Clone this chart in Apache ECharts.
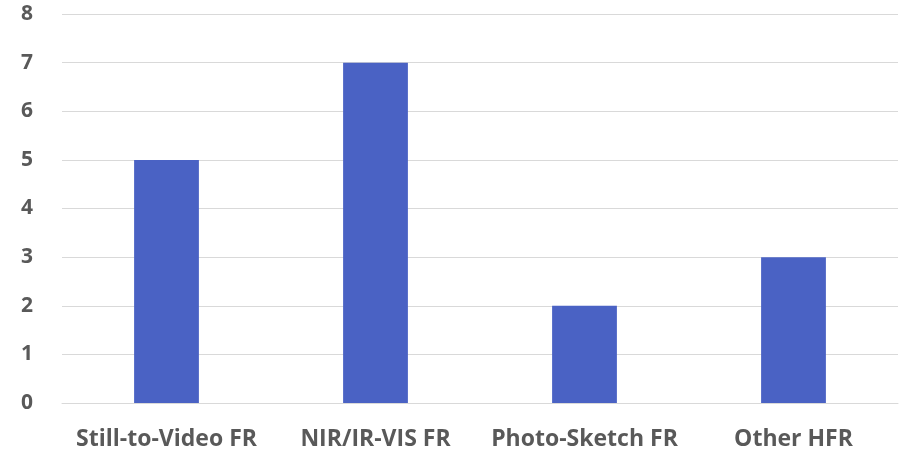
<!DOCTYPE html>
<html>
<head>
<meta charset="utf-8">
<script src="https://cdn.jsdelivr.net/npm/echarts@6/dist/echarts.min.js"></script>
<style>
  html, body { margin: 0; padding: 0; background: #fff; }
  #main { width: 904px; height: 454px; }
</style>
</head>
<body>
<div id="main"></div>
<script>
var categories = ['Still-to-Video FR', 'NIR/IR-VIS FR', 'Photo-Sketch FR', 'Other HFR'];
var counts = [5, 7, 2, 3];

var chart = echarts.init(document.getElementById('main'));
chart.setOption({
    animation: false,
    grid: { left: 62, right: 6, top: 14, bottom: 51, containLabel: false },
    xAxis: {
        type: 'category',
        data: categories,
        axisLine: { show: true, lineStyle: { color: '#d9d9d9', width: 1 } },
        axisTick: { show: false },
        axisLabel: {
            interval: 0,
            hideOverlap: false,
            color: '#595959',
            fontFamily: 'Open Sans',
            fontWeight: 700,
            fontSize: 23,
            margin: 25
        }
    },
    yAxis: {
        type: 'value',
        min: 0,
        max: 8,
        interval: 1,
        axisLine: { show: false },
        axisTick: { show: false },
        splitLine: { lineStyle: { color: '#d9d9d9', width: 1 } },
        axisLabel: {
            color: '#595959',
            fontFamily: 'Open Sans',
            fontWeight: 700,
            fontSize: 21,
            margin: 29
        }
    },
    series: [{
        type: 'bar',
        data: counts,
        barWidth: '31%',
        itemStyle: { color: '#4a62c4' }
    }]
});
</script>
</body>
</html>
